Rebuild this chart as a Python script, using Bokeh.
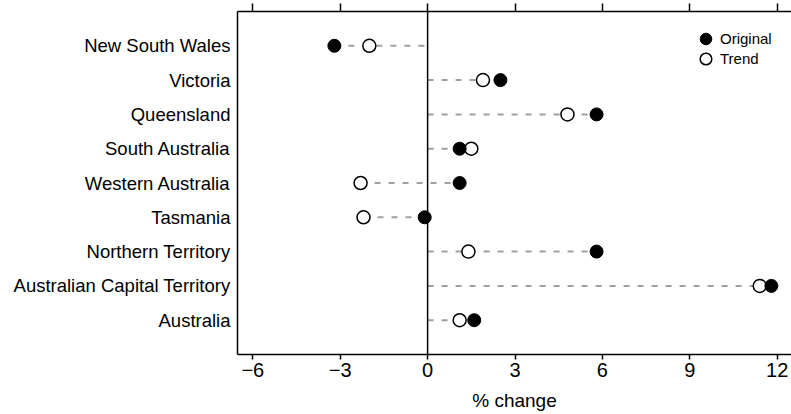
from bokeh.plotting import figure
from bokeh.models import (Range1d, LinearAxis, FixedTicker, Span, Legend,
                          LegendItem, ColumnDataSource)
from bokeh.embed import file_html
from bokeh.resources import INLINE

# ---- data -------------------------------------------------------------
states = ["New South Wales", "Victoria", "Queensland", "South Australia",
          "Western Australia", "Tasmania", "Northern Territory",
          "Australian Capital Territory", "Australia"]
original = [-3.2, 2.5, 5.8, 1.1, 1.1, -0.1, 5.8, 11.8, 1.6]
trend = [-2.0, 1.9, 4.8, 1.5, -2.3, -2.2, 1.4, 11.4, 1.1]
x_ticks = [-6, -3, 0, 3, 6, 9, 12]
x_tick_labels = ["\u22126", "\u22123", "0", "3", "6", "9", "12"]

pos = list(range(1, len(states) + 1))
lo = [min(0, o, t) for o, t in zip(original, trend)]
hi = [max(0, o, t) for o, t in zip(original, trend)]
src = ColumnDataSource(dict(pos=pos, original=original, trend=trend, lo=lo, hi=hi))

FONT = "Liberation Sans"

p = figure(width=791, height=414, output_backend="svg", toolbar_location=None,
           x_range=Range1d(-6.525, 12.49), y_range=Range1d(10, 0),
           min_border_left=237, min_border_right=0, min_border_top=11,
           min_border_bottom=60, x_axis_location="below", y_axis_location="left")
p.outline_line_color = None
p.grid.visible = False
p.background_fill_color = "white"

# x axis (bottom)
xa = p.xaxis[0]
xa.ticker = FixedTicker(ticks=x_ticks)
xa.major_label_overrides = {t: l for t, l in zip(x_ticks, x_tick_labels)}
xa.major_tick_out = 5
xa.major_tick_in = 0
xa.minor_tick_line_color = None
xa.axis_line_width = 1.5
xa.major_tick_line_width = 1.5
xa.major_label_standoff = 3
xa.major_label_text_font = FONT
xa.major_label_text_font_size = "20px"
xa.major_label_text_color = "black"
xa.axis_label = "% change"
xa.axis_label_text_font = FONT
xa.axis_label_text_font_size = "19px"
xa.axis_label_text_font_style = "normal"
xa.axis_label_text_color = "black"
xa.axis_label_standoff = 10

# top axis: ticks only
top = LinearAxis(ticker=FixedTicker(ticks=x_ticks),
                 major_label_overrides={t: "" for t in x_ticks},
                 major_label_text_font_size="0px", major_label_standoff=0,
                 major_tick_out=8, major_tick_in=0, minor_tick_line_color=None,
                 axis_line_width=1.5, major_tick_line_width=1.5)
p.add_layout(top, "above")

# y axis
ya = p.yaxis[0]
ya.ticker = FixedTicker(ticks=pos)
ya.major_label_overrides = {i: s for i, s in zip(pos, states)}
ya.major_tick_out = 0
ya.major_tick_in = 0
ya.minor_tick_line_color = None
ya.axis_line_width = 1.5
ya.major_label_standoff = 7
ya.major_label_text_font = FONT
ya.major_label_text_font_size = "18.5px"
ya.major_label_text_color = "black"

# zero line
p.add_layout(Span(location=0, dimension="height", line_color="black", line_width=1.5))

# dashed connectors
p.segment(x0="lo", y0="pos", x1="hi", y1="pos", source=src,
          line_color="#a0a0a0", line_width=2, line_dash="6 8")

r_t = p.scatter(x="trend", y="pos", source=src, size=13, fill_color="white",
                line_color="black", line_width=1.5)
r_o = p.scatter(x="original", y="pos", source=src, size=13, fill_color="black",
                line_color="black", line_width=1)

common = dict(padding=0, spacing=0, glyph_width=29, glyph_height=31,
              label_standoff=0, label_text_font=FONT, label_text_font_size="15px",
              label_text_color="black", border_line_color=None,
              background_fill_alpha=0, margin=0)
leg1 = Legend(items=[LegendItem(label="Original", renderers=[r_o])],
              location=(454, 300), **common)
leg2 = Legend(items=[LegendItem(label="Trend", renderers=[r_t])],
              location=(454, 280), **common)
p.add_layout(leg1)
p.add_layout(leg2)

open("out.html", "w").write(file_html(p, INLINE))
